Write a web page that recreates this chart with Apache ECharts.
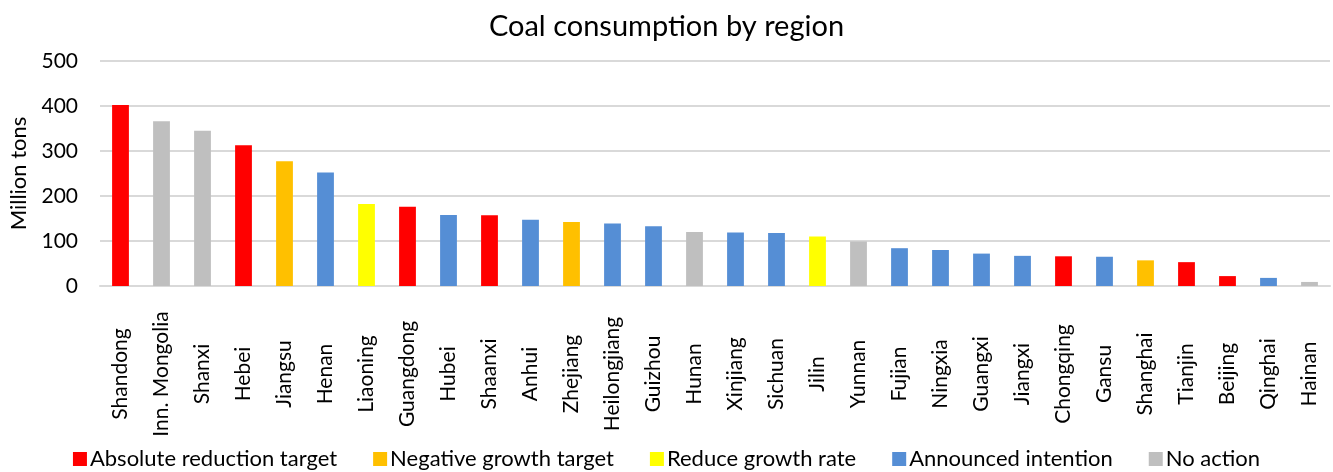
<!DOCTYPE html>
<html><head><meta charset="utf-8">
<script src="https://cdn.jsdelivr.net/npm/echarts@6/dist/echarts.min.js"></script>
<style>html,body{margin:0;padding:0;background:#fff}#c{width:1333px;height:472px}</style>
</head><body><div id="c"></div>
<script>
const categories = ["Shandong","Inn. Mongolia","Shanxi","Hebei","Jiangsu","Henan","Liaoning","Guangdong","Hubei","Shaanxi","Anhui","Zhejiang","Heilongjiang","Guizhou","Hunan","Xinjiang","Sichuan","Jilin","Yunnan","Fujian","Ningxia","Guangxi","Jiangxi","Chongqing","Gansu","Shanghai","Tianjin","Beijing","Qinghai","Hainan"];
const values = [402,366,345,313,277,252,182,176,158,157,147,142,139,133,120,119,118,110,99,84,80,72,67,66,65,57,53,22,18,9];
// policy group index per region
const groups = [0,4,4,0,1,3,2,0,3,0,3,1,3,3,4,3,3,2,4,3,3,3,3,0,3,1,0,0,3,4];
const groupNames = ["Absolute reduction target","Negative growth target","Reduce growth rate","Announced intention","No action"];
const groupColors = ["#FF0000","#FFC000","#FFFF00","#558ED5","#BFBFBF"];
const yTicks = {min:0,max:500,interval:100};

const FONT = "Lato";
const series = groupNames.map((name, g) => ({
  name,
  type: 'bar',
  stack: 'all',
  barWidth: '41%',
  itemStyle: {color: groupColors[g]},
  data: values.map((v, i) => groups[i] === g ? v : '-')
}));

const chart = echarts.init(document.getElementById('c'));
chart.setOption({
  animation: false,
  textStyle: {fontFamily: FONT},
  title: {text: 'Coal consumption by region', left: 'center', top: 7,
    textStyle: {fontFamily: FONT, fontSize: 29, fontWeight: 'normal', color: '#000'}},
  legend: {bottom: -3, left: 'center', itemWidth: 14, itemHeight: 14, itemGap: 36, icon: 'rect',
    textStyle: {fontFamily: FONT, fontSize: 22, color: '#000', padding: [0,0,0,-2]},
    data: groupNames},
  grid: {left: 100, right: 3, top: 61, bottom: 186, containLabel: false},
  xAxis: {type: 'category', data: categories,
    axisLine: {lineStyle: {color: '#d9d9d9', width: 2}}, axisTick: {show: false},
    axisLabel: {rotate: 90, interval: 0, fontFamily: FONT, fontSize: 21, color: '#000',
      margin: 88, align: 'center', verticalAlign: 'middle'}},
  yAxis: {type: 'value', min: yTicks.min, max: yTicks.max, interval: yTicks.interval,
    name: 'Million tons', nameLocation: 'middle', nameRotate: 90, nameGap: 70,
    nameTextStyle: {fontFamily: FONT, fontSize: 22, color: '#000'},
    axisLine: {show: false}, axisTick: {show: false},
    axisLabel: {fontFamily: FONT, fontSize: 21, color: '#000', margin: 22},
    splitLine: {lineStyle: {color: '#d9d9d9', width: 2}}},
  series
});
</script></body></html>
